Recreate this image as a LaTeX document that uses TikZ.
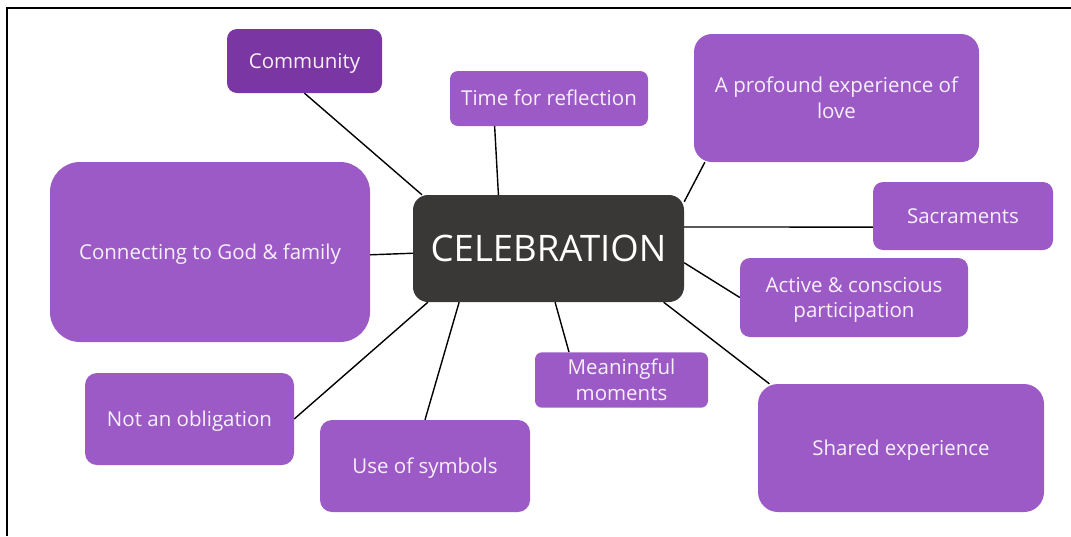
\documentclass[tikz,border=0pt]{standalone}
\usepackage{fontspec}
\setmainfont{Open Sans}
\usetikzlibrary{backgrounds}
\definecolor{purp}{HTML}{9B5AC5}
\definecolor{purpdark}{HTML}{7A36A2}
\definecolor{core}{HTML}{3A3836}
\definecolor{labeltext}{HTML}{F7F0FB}
% centred label block, nudged so the capitals sit on the box's middle
\newcommand\boxlabel[1]{\raisebox{0pt}[\dimexpr\height+4.4pt\relax][\depth]{\begin{tabular}{@{}c@{}}#1\end{tabular}}}
\begin{document}
\begin{tikzpicture}[x=1pt,y=-1pt,
  leaf/.style={fill=purp, text=labeltext, inner sep=0pt,
    font=\fontsize{20.5}{25.5}\selectfont},
  hub/.style={fill=core, text=white, align=center, inner sep=0pt,
    rounded corners=15pt, font=\fontsize{36.5}{40}\selectfont},
  link/.style={draw=black, line width=1.4pt}]
\useasboundingbox (0,0) rectangle (1071,536);
% outer frame
\draw[line width=2pt] (7,536) -- (7,8) -- (1071,8);

% central topic
\node[hub, minimum width=271pt, minimum height=107pt] (cel) at (548.5,248.5) {CELEBRATION};

% surrounding ideas
\node[leaf, fill=purpdark, rounded corners=10pt, minimum width=155pt, minimum height=64pt] (comm) at (304.5,61) {\boxlabel{Community}};
\node[leaf, rounded corners=8pt, minimum width=198pt, minimum height=55pt] (time) at (549,98.5) {\boxlabel{Time for reflection}};
\node[leaf, rounded corners=18pt, minimum width=285pt, minimum height=128pt] (love) at (836.5,98) {\boxlabel{A profound experience of\\love}};
\node[leaf, rounded corners=10pt, minimum width=180pt, minimum height=68pt] (sacr) at (963,216) {\boxlabel{Sacraments}};
\node[leaf, rounded corners=10pt, minimum width=228pt, minimum height=79pt] (actv) at (854,297.5) {\boxlabel{Active \& conscious\\participation}};
\node[leaf, rounded corners=20pt, minimum width=286pt, minimum height=128pt] (shrd) at (901,448) {\boxlabel{Shared experience}};
\node[leaf, rounded corners=7pt, minimum width=173pt, minimum height=54pt] (mean) at (621.5,380) {\boxlabel{Meaningful\\moments}};
\node[leaf, rounded corners=12pt, minimum width=210pt, minimum height=92pt] (symb) at (425,466) {\boxlabel{Use of symbols}};
\node[leaf, rounded corners=12pt, minimum width=209pt, minimum height=92pt] (oblg) at (189.5,419) {\boxlabel{Not an obligation}};
\node[leaf, rounded corners=30pt, minimum width=320pt, minimum height=180pt] (conn) at (210,252) {\boxlabel{Connecting to God \& family}};

% connectors
\begin{scope}[on background layer]
\draw[link] (comm.south) -- (cel.157.4);
\draw[link] (time.207.9) -- (cel.133.9);
\draw[link] (love.206.65) -- (cel.19.1);
\draw[link] (cel.9.0) -- (sacr.187.0);
\draw[link] (cel.-6.1) -- (actv.west);
\draw[link] (cel.-25.2) -- (shrd.154.5);
\draw[link] (cel.-83.1) -- (mean.152.3);
\draw[link] (cel.211.4) -- (symb.north);
\draw[link] (cel.204.3) -- (oblg.east);
\draw[link] (conn.-1.07) -- (cel.182.3);
\end{scope}
\end{tikzpicture}
\end{document}
